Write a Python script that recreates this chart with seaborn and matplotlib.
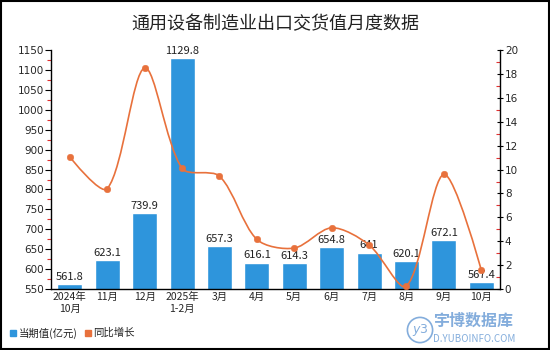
import numpy as np
import pandas as pd
import matplotlib
matplotlib.use("Agg")
import matplotlib.pyplot as plt
import seaborn as sns
from matplotlib.path import Path
from matplotlib.patches import PathPatch, Circle
from matplotlib.ticker import MultipleLocator

categories = ["2024年\n10月", "11月", "12月", "2025年\n1-2月", "3月", "4月", "5月",
              "6月", "7月", "8月", "9月", "10月"]
values = [561.8, 623.1, 739.9, 1129.8, 657.3, 616.1, 614.3, 654.8, 641.0, 620.1, 672.1, 567.4]
value_labels = ["561.8", "623.1", "739.9", "1129.8", "657.3", "616.1", "614.3",
                "654.8", "641", "620.1", "672.1", "567.4"]
growth = [11.05, 8.4, 18.5, 10.1, 9.45, 4.16, 3.43, 5.13, 3.7, 0.25, 9.6, 1.6]

BLUE = "#2E95DC"
ORANGE = "#E8713C"

sns.set_theme(style="white")
plt.rcParams["font.family"] = ["Noto Sans CJK SC", "DejaVu Sans"]

fig = plt.figure(figsize=(5.5, 3.5), dpi=100)
ax = fig.add_axes([0.093, 0.174, 0.816, 0.683])

df = pd.DataFrame({"cat": categories, "val": values})
sns.barplot(data=df, x="cat", y="val", color=BLUE, width=0.67, ax=ax,
            saturation=1, zorder=2)
ax.set_ylim(550, 1150)
ax.set_xlim(-0.5, len(categories) - 0.5)
ax.yaxis.set_major_locator(MultipleLocator(50))
ax.yaxis.set_minor_locator(MultipleLocator(25))
ax.set_xlabel("")
ax.set_ylabel("")
for s in ["top", "right"]:
    ax.spines[s].set_visible(False)
for s in ["left", "bottom"]:
    ax.spines[s].set_color("black")
    ax.spines[s].set_linewidth(1)
ax.tick_params(axis="y", which="major", direction="out", length=4, width=0.8,
               color="black", labelsize=7.5, pad=1, left=True)
ax.tick_params(axis="y", which="minor", direction="out", length=3, width=0.8,
               color="#E03030", left=True)
ax.tick_params(axis="x", length=0, labelsize=7.5, pad=2)
for lab in ax.get_yticklabels():
    lab.set_family(["DejaVu Sans"])

for i, (v, t) in enumerate(zip(values, value_labels)):
    ax.text(i, v + 6, t, ha="center", va="bottom", fontsize=8, color="#222222",
            zorder=5)

ax2 = ax.twinx()
ax2.set_ylim(0, 20)
ax2.yaxis.set_major_locator(MultipleLocator(2))
ax2.yaxis.set_minor_locator(MultipleLocator(1))
for s in ["top", "left", "bottom"]:
    ax2.spines[s].set_visible(False)
ax2.spines["right"].set_color("black")
ax2.spines["right"].set_linewidth(1)
ax2.tick_params(axis="y", which="major", direction="inout", length=5, width=0.8,
                color="black", labelsize=7.5, pad=1)
ax2.tick_params(axis="y", which="minor", direction="in", length=3, width=0.8,
                color="#E03030")
ax2.grid(False)
ax.grid(False)
for lab in ax2.get_yticklabels():
    lab.set_family(["DejaVu Sans"])

# smooth line (echarts-like bezier) built from data points
xs = np.arange(len(growth), dtype=float)
pts = ax2.transData.transform(np.column_stack([xs, growth]))
n = len(pts)
smooth = 0.3
cps = []
for i in range(n):
    if i == 0 or i == n - 1:
        cps.append((pts[i], pts[i]))
        continue
    prev, cur, nxt = pts[i - 1], pts[i], pts[i + 1]
    v = nxt - prev
    d0 = np.hypot(*(cur - prev))
    d1 = np.hypot(*(nxt - cur))
    tot = d0 + d1
    c0 = cur - v * smooth * d0 / tot
    c1 = cur + v * smooth * d1 / tot
    cps.append((c0, c1))
verts = [pts[0]]
codes = [Path.MOVETO]
for i in range(n - 1):
    verts += [cps[i][1], cps[i + 1][0], pts[i + 1]]
    codes += [Path.CURVE4] * 3
verts = ax2.transData.inverted().transform(np.array(verts))
path = Path(verts, codes)
ax2.add_patch(PathPatch(path, facecolor="none", edgecolor=ORANGE, lw=1.2, zorder=3))
sns.scatterplot(x=xs, y=growth, color=ORANGE, s=22, edgecolor=ORANGE, ax=ax2,
                zorder=4, legend=False)
ax2.set_ylabel("")

fig.text(0.5, 0.93, "通用设备制造业出口交货值月度数据", ha="center", va="center",
         fontsize=13, color="#222222")

# legend
fig.patches.append(plt.Rectangle((10 / 550, 1 - 336 / 350), 6 / 550, 6 / 350,
                                 transform=fig.transFigure, color=BLUE))
fig.text(19 / 550, 1 - 333 / 350, "当期值(亿元)", fontsize=7.5, va="center", color="#222222")
fig.patches.append(plt.Rectangle((85 / 550, 1 - 336 / 350), 6 / 550, 6 / 350,
                                 transform=fig.transFigure, color=ORANGE))
fig.text(93 / 550, 1 - 333 / 350, "同比增长", fontsize=7.5, va="center", color="#222222")

# watermark
WM = "#6E9FD6"
fig.text(433 / 550, 1 - 321 / 350, "宇博数据库", fontsize=11.5, va="center", color=WM,
         fontweight="bold", alpha=0.85)
fig.text(433 / 550, 1 - 339 / 350, "D.YUBOINFO.COM", fontsize=7, va="center", color=WM,
         alpha=0.85)
fig.text(420 / 550, 1 - 330 / 350, "$\\mathit{y3}$", fontsize=9, ha="center", va="center",
         color=WM, alpha=0.85)
ax_logo = fig.add_axes([406 / 550, 1 - 344 / 350, 28 / 550, 28 / 350])
ax_logo.add_patch(Circle((0.5, 0.5), 0.45, facecolor="none", edgecolor=WM, lw=1.2, alpha=0.85))
ax_logo.set_xlim(0, 1)
ax_logo.set_ylim(0, 1)
ax_logo.set_aspect("equal")
ax_logo.axis("off")

# outer border
fig.patches.append(plt.Rectangle((0.001, 0.002), 0.997, 0.996, transform=fig.transFigure,
                                 fill=False, edgecolor="black", lw=1.5))

fig.savefig("out.png", dpi=100)
